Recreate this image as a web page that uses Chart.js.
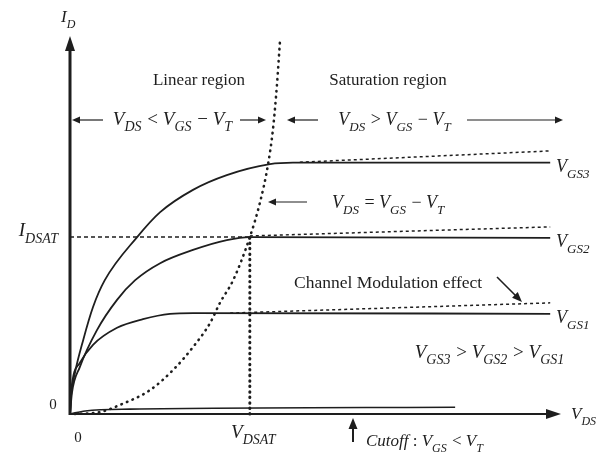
<!DOCTYPE html>
<html>
<head>
<meta charset="utf-8">
<script src="https://cdn.jsdelivr.net/npm/chart.js@4.4.0/dist/chart.umd.min.js"></script>
<style>
  body { margin: 0; background: #fff; }
  canvas { display: block; }
</style>
</head>
<body>
<canvas id="mosfetChart" width="598" height="476"></canvas>
<script>
// I_D - V_DS curves, arbitrary units (both axes run 0..10)
var vgs3Vds = [0, 0.02, 0.10, 0.27, 0.47, 0.71, 1.37, 1.84, 2.51, 3.20, 4.08, 4.55, 9.80];
var vgs3Id  = [0, 0.45, 1.08, 1.96, 2.83, 3.54, 4.68, 5.34, 5.93, 6.32, 6.61, 6.65, 6.65];

var vgs2Vds = [0, 0.04, 0.20, 0.55, 0.96, 1.33, 1.84, 2.51, 3.20, 3.67, 9.80];
var vgs2Id  = [0, 0.56, 1.24, 2.22, 3.02, 3.54, 3.99, 4.34, 4.60, 4.68, 4.66];

var vgs1Vds = [0, 0.02, 0.20, 0.47, 0.96, 1.49, 2.04, 2.51, 9.80];
var vgs1Id  = [0, 0.56, 1.35, 1.83, 2.28, 2.51, 2.65, 2.67, 2.65];

// channel length modulation (dashed continuation of each curve)
var clmVds = [[4.69, 9.80], [3.67, 9.80], [3.27, 9.80]];
var clmId  = [[6.66, 6.96], [4.71, 4.95], [2.67, 2.94]];

// V_DS = V_GS - V_T boundary
var edgeVds = [0.10, 0.61, 1.02, 1.63, 2.10, 2.51, 2.86, 3.06, 3.33, 3.67, 3.88, 4.04, 4.14, 4.22, 4.29];
var edgeId  = [0.00, 0.05, 0.24, 0.63, 1.16, 1.77, 2.41, 2.94, 3.54, 4.68, 5.61, 6.59, 7.51, 8.65, 9.95];

// cutoff leakage
var cutVds = [0, 0.31, 1.22, 7.86];
var cutId  = [0, 0.08, 0.13, 0.18];

var idsat = 4.68;
var vdsat = 3.67;

var SERIF = '"Liberation Serif", "DejaVu Serif", serif';
var INK = '#1e1e1e';

function pts(xs, ys) {
    return xs.map(function(x, i) { return { x: x, y: ys[i] }; });
}

function curve(xs, ys, width, dash, cap) {
    return {
        data: pts(xs, ys),
        borderColor: INK,
        borderWidth: width,
        borderDash: dash || [],
        borderCapStyle: cap || 'butt',
        cubicInterpolationMode: 'monotone',
        pointRadius: 0,
        fill: false,
        clip: false
    };
}

// text with italic letter + subscript pieces: ['V','DS'] or plain string
function richWidth(ctx, parts, size) {
    var w = 0;
    parts.forEach(function(p) {
        if (typeof p === 'string') {
            ctx.font = size + 'px ' + SERIF;
            w += ctx.measureText(p).width;
        } else {
            ctx.font = 'italic ' + size + 'px ' + SERIF;
            w += ctx.measureText(p[0]).width;
            if (p[1]) {
                ctx.font = 'italic ' + Math.round(size * 0.72) + 'px ' + SERIF;
                w += ctx.measureText(p[1]).width + 1;
            }
        }
    });
    return w;
}

function drawRich(ctx, parts, x, y, size, align) {
    var w = richWidth(ctx, parts, size);
    if (align === 'center') x -= w / 2;
    if (align === 'right') x -= w;
    ctx.textAlign = 'left';
    ctx.textBaseline = 'alphabetic';
    parts.forEach(function(p) {
        if (typeof p === 'string') {
            ctx.font = size + 'px ' + SERIF;
            ctx.fillText(p, x, y);
            x += ctx.measureText(p).width;
        } else {
            ctx.font = 'italic ' + size + 'px ' + SERIF;
            ctx.fillText(p[0], x, y);
            x += ctx.measureText(p[0]).width;
            if (p[1]) {
                ctx.font = 'italic ' + Math.round(size * 0.72) + 'px ' + SERIF;
                ctx.fillText(p[1], x, y + size * 0.34);
                x += ctx.measureText(p[1]).width + 1;
            }
        }
    });
}

function arrow(ctx, x1, y1, x2, y2, len, half, lw) {
    var a = Math.atan2(y2 - y1, x2 - x1);
    ctx.lineWidth = lw;
    ctx.beginPath();
    ctx.moveTo(x1, y1);
    ctx.lineTo(x2 - Math.cos(a) * len * 0.6, y2 - Math.sin(a) * len * 0.6);
    ctx.stroke();
    ctx.beginPath();
    ctx.moveTo(x2, y2);
    ctx.lineTo(x2 - Math.cos(a) * len - Math.sin(a) * half, y2 - Math.sin(a) * len + Math.cos(a) * half);
    ctx.lineTo(x2 - Math.cos(a) * len + Math.sin(a) * half, y2 - Math.sin(a) * len - Math.cos(a) * half);
    ctx.closePath();
    ctx.fill();
}

var decorPlugin = {
    id: 'decor',
    beforeDraw: function(chart) {
        var ctx = chart.ctx;
        ctx.save();
        ctx.fillStyle = '#fff';
        ctx.fillRect(0, 0, chart.width, chart.height);
        ctx.restore();
    },
    afterDatasetsDraw: function(chart) {
        var ctx = chart.ctx;
        var xs = chart.scales.x, ys = chart.scales.y;
        var x0 = xs.getPixelForValue(0), y0 = ys.getPixelForValue(0);
        var xEnd = xs.getPixelForValue(10), yEnd = ys.getPixelForValue(10);

        ctx.save();
        ctx.strokeStyle = INK;
        ctx.fillStyle = INK;

        // axes
        arrow(ctx, x0, y0 + 1, x0, yEnd, 15, 5, 3);
        arrow(ctx, x0 - 1, y0, xEnd + 1, y0, 15, 5, 2);

        // region arrows
        arrow(ctx, 103, 120, 72, 120, 8, 3.5, 1.2);
        arrow(ctx, 240, 120, 266, 120, 8, 3.5, 1.2);
        arrow(ctx, 318, 120, 287, 120, 8, 3.5, 1.2);
        arrow(ctx, 467, 120, 563, 120, 8, 3.5, 1.2);
        arrow(ctx, 307, 202, 268, 202, 8, 3.5, 1.2);
        arrow(ctx, 497, 277, 522, 302, 10, 4, 1.6);
        arrow(ctx, 353, 442, 353, 418, 11, 4.5, 2);

        // labels
        drawRich(ctx, [['I', 'D']], 61, 22, 17, 'left');
        drawRich(ctx, [['I', 'DSAT']], 59, ys.getPixelForValue(idsat) - 1, 19, 'right');
        drawRich(ctx, [['V', 'DSAT']], xs.getPixelForValue(vdsat) + 4, 438, 19, 'center');
        drawRich(ctx, [['V', 'DS']], 571, y0 + 5, 17, 'left');

        ctx.font = '15px ' + SERIF;
        ctx.textAlign = 'center';
        ctx.fillText('0', 53, 409);
        ctx.fillText('0', 78, 442);
        ctx.font = '17px ' + SERIF;
        ctx.fillText('Linear region', 199, 85);
        ctx.fillText('Saturation region', 388, 85);
        ctx.textAlign = 'left';
        ctx.font = '17.5px ' + SERIF;
        ctx.fillText('Channel Modulation effect', 294, 288);

        drawRich(ctx, [['V', 'DS'], ' < ', ['V', 'GS'], ' \u2212 ', ['V', 'T']], 173, 125, 19, 'center');
        drawRich(ctx, [['V', 'DS'], ' > ', ['V', 'GS'], ' \u2212 ', ['V', 'T']], 395, 125, 18, 'center');
        drawRich(ctx, [['V', 'DS'], ' = ', ['V', 'GS'], ' \u2212 ', ['V', 'T']], 332, 208, 18, 'left');
        drawRich(ctx, [['V', 'GS3'], ' > ', ['V', 'GS2'], ' > ', ['V', 'GS1']], 490, 358, 19, 'center');
        drawRich(ctx, [['Cutoff', ''], ' : ', ['V', 'GS'], ' < ', ['V', 'T']], 366, 446, 17, 'left');

        var tags = [['GS3', 6.65], ['GS2', 4.66], ['GS1', 2.65]];
        tags.forEach(function(t) {
            drawRich(ctx, [['V', t[0]]], 556, ys.getPixelForValue(t[1]) + 9, 18, 'left');
        });
        ctx.restore();
    }
};

var datasets = [
    curve(vgs3Vds, vgs3Id, 1.8),
    curve(vgs2Vds, vgs2Id, 1.8),
    curve(vgs1Vds, vgs1Id, 1.8),
    curve(cutVds, cutId, 1.6),
    curve(edgeVds, edgeId, 2.6, [0.5, 5.5], 'round'),
    curve([vdsat, vdsat], [0, idsat], 3, [0.5, 5], 'round'),
    curve([0, vdsat], [idsat, idsat], 1.5, [4, 3])
];
clmVds.forEach(function(xs, i) {
    datasets.push(curve(xs, clmId[i], 1.5, [3, 3]));
});

new Chart(document.getElementById('mosfetChart'), {
    type: 'line',
    data: { datasets: datasets },
    options: {
        responsive: false,
        animation: false,
        layout: { padding: { left: 70, right: 38, top: 36, bottom: 62 } },
        plugins: { legend: { display: false }, tooltip: { enabled: false } },
        scales: {
            x: { type: 'linear', min: 0, max: 10, display: false },
            y: { type: 'linear', min: 0, max: 10, display: false }
        }
    },
    plugins: [decorPlugin]
});
</script>
</body>
</html>
